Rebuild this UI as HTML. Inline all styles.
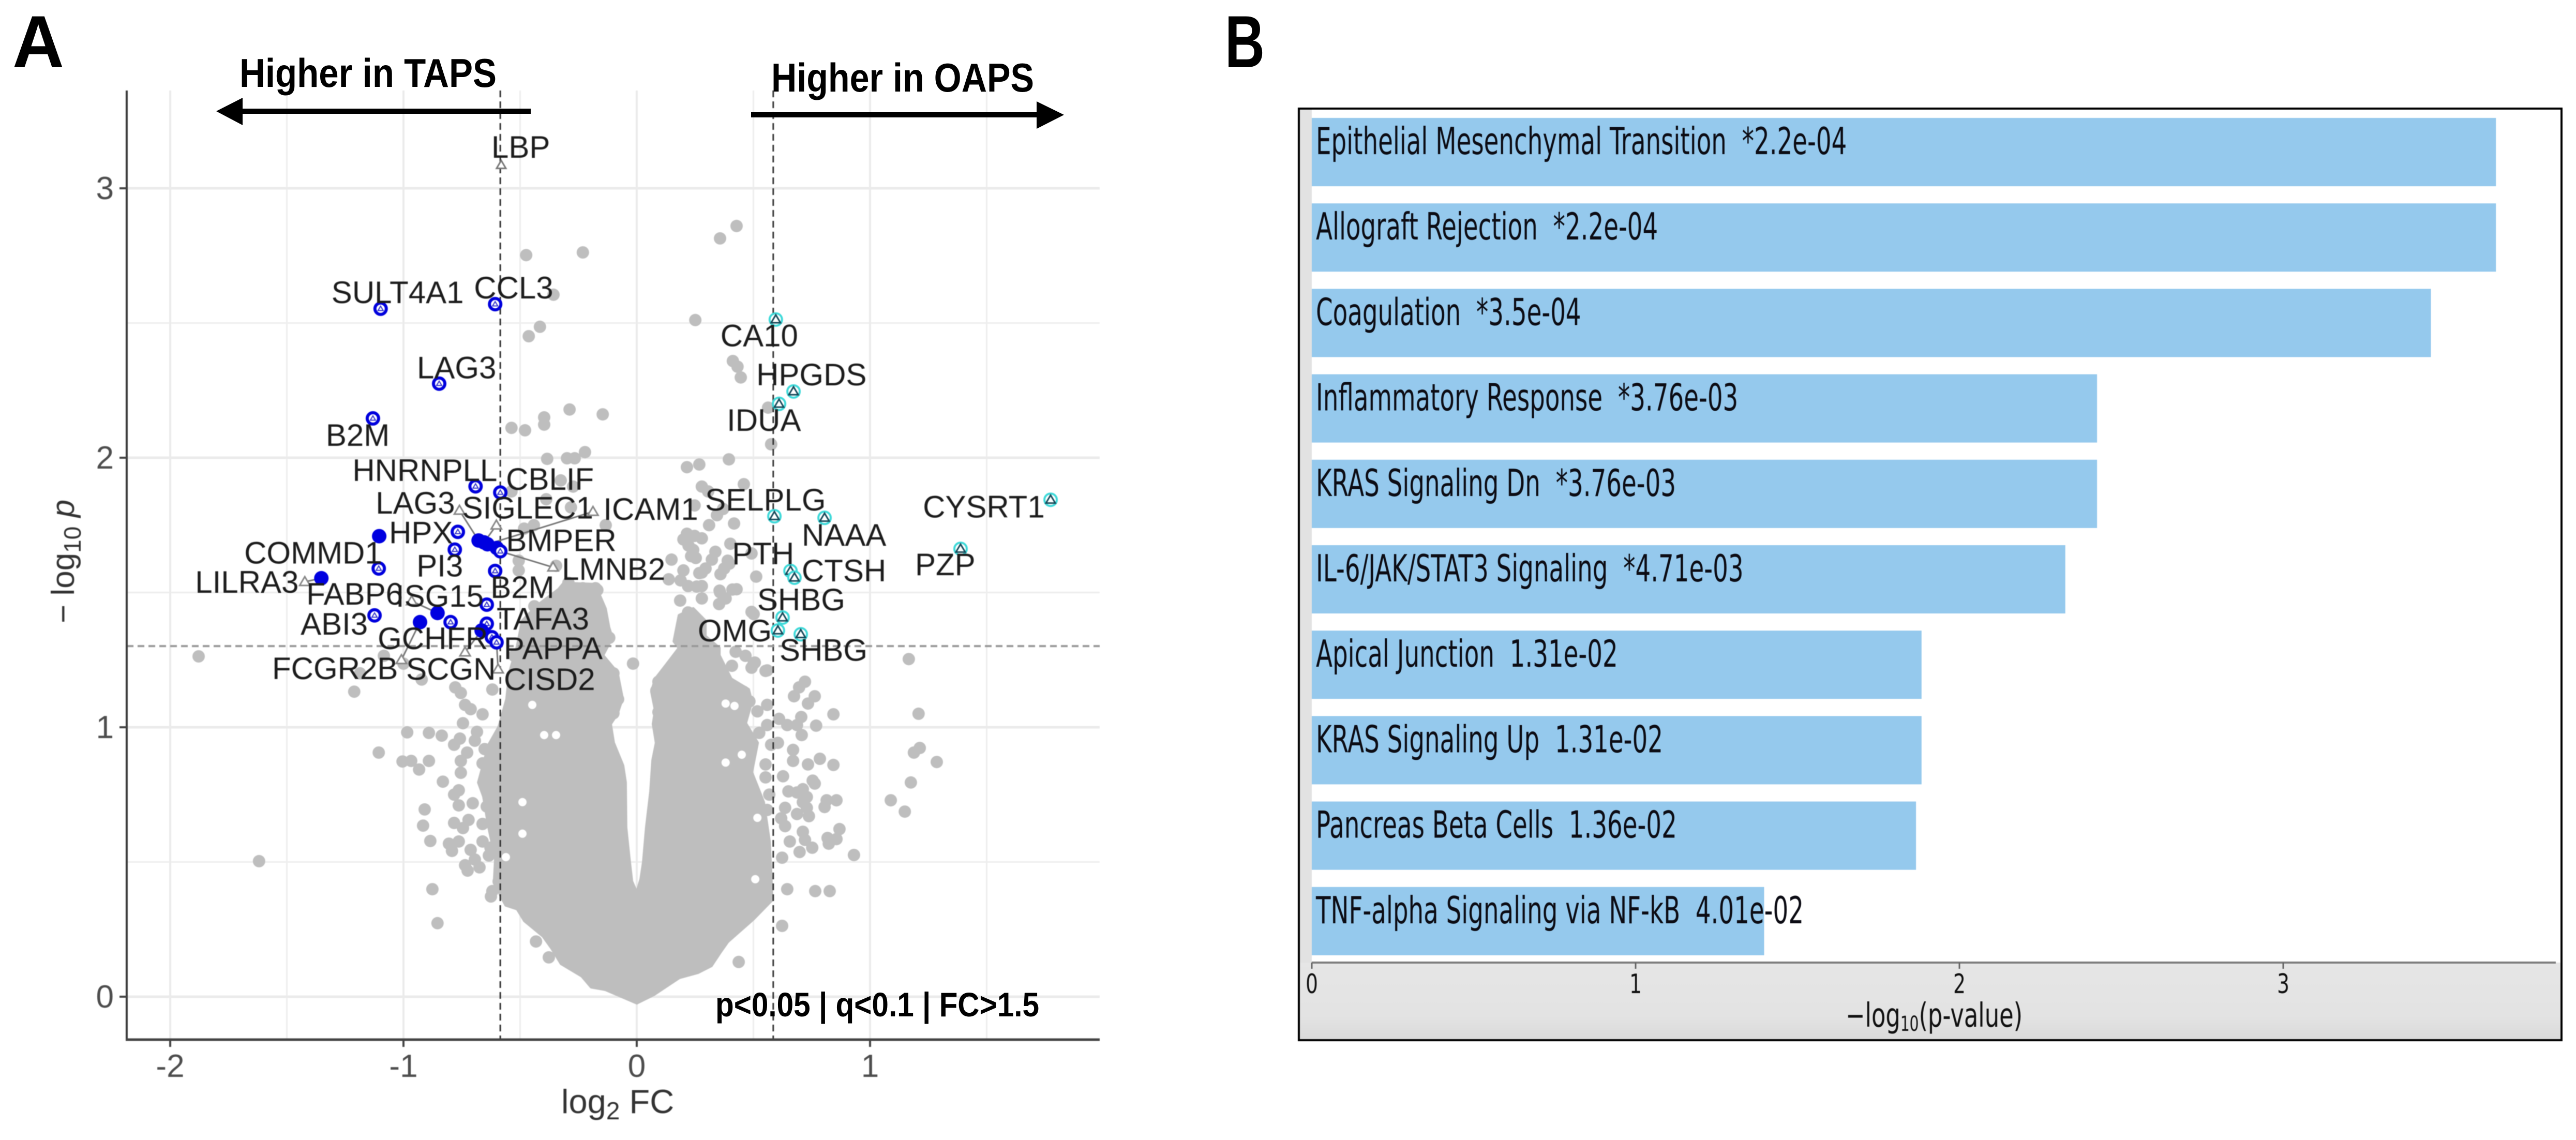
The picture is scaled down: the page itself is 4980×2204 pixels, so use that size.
<!DOCTYPE html>
<html lang="en">
<head>
<meta charset="utf-8">
<title>Volcano plot and pathway enrichment</title>
<style>
html,body{margin:0;padding:0;background:#fff;width:4980px;height:2204px;overflow:hidden}
svg{display:block}
text{white-space:pre}
.sans{font-family:"Liberation Sans",sans-serif}
.dj{font-family:"DejaVu Sans",sans-serif}
</style>
</head>
<body>
<svg id="fig" xmlns="http://www.w3.org/2000/svg" width="4980" height="2204" viewBox="0 0 4980 2204">
  <defs>
    <linearGradient id="axisBand" x1="0" y1="0" x2="0" y2="1">
      <stop offset="0" stop-color="#e6e6e6"/><stop offset="0.7" stop-color="#e3e3e3"/><stop offset="1" stop-color="#dadada"/>
    </linearGradient>
  </defs>
  <rect x="0" y="0" width="4980" height="2204" fill="#fff"/>
  <text class="sans" x="24" y="130" font-size="143" font-weight="700" textLength="100" lengthAdjust="spacingAndGlyphs" fill="#000">A</text>
  <text class="sans" x="2368" y="130" font-size="143" font-weight="700" textLength="77" lengthAdjust="spacingAndGlyphs" fill="#000">B</text>

  <g id="panelA" style="filter:blur(0.8px)">
    <g id="gridA"></g>
    <g id="cloudA"></g>
    <g id="thresholdsA"></g>
    <g id="axesA"></g>
    <g id="genesA"></g>
    <text class="sans" transform="translate(143,1205) rotate(-90)" font-size="62" fill="#333">− log<tspan font-size="46" dy="13">10</tspan><tspan dy="-13" font-style="italic"> p</tspan></text>
    <text class="sans" x="1085" y="2152" font-size="65" fill="#333">log<tspan font-size="48" dy="12">2</tspan><tspan dy="-12"> FC</tspan></text>
  </g>

  <text class="sans" x="463" y="168" font-size="78" font-weight="700" textLength="497" lengthAdjust="spacingAndGlyphs" fill="#000">Higher in TAPS</text>
  <text class="sans" x="1491" y="177" font-size="78" font-weight="700" textLength="508" lengthAdjust="spacingAndGlyphs" fill="#000">Higher in OAPS</text>
  <g>
    <rect x="465" y="210" width="561" height="10" fill="#000"/>
    <polygon points="418,215 469,189 469,242" fill="#000"/>
  </g>
  <g>
    <rect x="1452" y="217" width="555" height="10" fill="#000"/>
    <polygon points="2057,222 2004,196 2004,249" fill="#000"/>
  </g>
  <text class="sans" x="1383" y="1965" font-size="66" font-weight="700" textLength="626" lengthAdjust="spacingAndGlyphs" fill="#000">p&lt;0.05 | q&lt;0.1 | FC&gt;1.5</text>

  <g id="panelB" style="filter:blur(0.6px)">
    <rect x="2510" y="209" width="2443" height="1803" fill="#fff"/>
    <rect x="2512" y="211" width="24" height="1650" fill="#e2e2e2"/>
    <rect x="2512" y="1861" width="2439" height="149" fill="url(#axisBand)"/>
    <g id="barsB"></g>
    <g id="axisB"></g>
    <text class="dj" transform="translate(3568,1985) scale(0.7,1)" font-size="64" fill="#111">−log<tspan font-size="40" dy="8">10</tspan><tspan dy="-8">(p-value)</tspan></text>
    <rect x="2511" y="210" width="2441" height="1801" fill="none" stroke="#000" stroke-width="4"/>
  </g>
</svg>

<script>
/* ---------- Panel A data: volcano plot ---------- */
const xTicks = [-2, -1, 0, 1];
const xMinorTicks = [-1.5, -0.5, 0.5, 1.5];
const yTicks = [0, 1, 2, 3];
const yMinorTicks = [0.5, 1.5, 2.5];
const fcCutoffs = [-0.585, 0.585];
const pCutoff = 1.301;

/* Dense body of the volcano, outline */
const cloudFC = [0,-0.135,-0.195,-0.235,-0.324,-0.364,-0.401,-0.481,-0.512,-0.561,-0.581,-0.61,-0.605,-0.634,-0.656,-0.678,-0.634,-0.59,-0.557,-0.545,-0.512,-0.49,-0.424,-0.335,-0.313,-0.18,-0.151,-0.135,-0.12,-0.106,-0.146,-0.084,-0.062,-0.084,-0.113,-0.1,-0.06,-0.049,-0.047,-0.033,-0.022,0,0.018,0.029,0.042,0.06,0.069,0.084,0.071,0.08,0.064,0.08,0.131,0.182,0.16,0.182,0.242,0.293,0.293,0.353,0.353,0.404,0.479,0.492,0.466,0.517,0.492,0.543,0.568,0.576,0.579,0.499,0.39,0.359,0.319,0.262,0.182,0.073];
const cloudLogP = [-0.023,0.027,0.036,0.077,0.123,0.18,0.225,0.282,0.326,0.34,0.372,0.43,0.512,0.628,0.743,0.795,0.935,1.002,1.104,1.203,1.299,1.395,1.453,1.511,1.534,1.53,1.472,1.44,1.37,1.332,1.267,1.203,1.107,1.05,1.012,0.942,0.858,0.795,0.628,0.512,0.428,0.384,0.436,0.499,0.628,0.762,0.877,0.942,1.012,1.063,1.132,1.179,1.236,1.294,1.319,1.415,1.44,1.395,1.338,1.294,1.267,1.179,1.14,1.094,1.015,0.942,0.833,0.722,0.576,0.428,0.359,0.288,0.205,0.167,0.115,0.09,0.071,0.008];

/* Small white gaps inside the dense body */
const gapFC = [-0.448,-0.397,-0.346,-0.49,-0.49,-0.561,0.381,0.419,0.45,0.381,0.517,0.508];
const gapLogP = [1.083,0.971,0.971,0.722,0.605,0.518,1.088,1.079,0.898,0.869,0.664,0.436];

/* Individually visible non-significant proteins */
const grayFC = [
-0.474,-0.231,-0.357,-0.415,-0.463,0.428,0.357,0.251,0.412,0.432,0.446,0.563,0.576,-0.288,-0.146,-0.397,-0.397,-0.537,-0.479,-0.222,-0.266,-0.299,-0.384,0.395,0.268,0.215,-0.326,-0.273,0.459,0.279,0.306,-0.537,-0.388,-0.282,0.248,-0.133,0.417,0.344,0.31,0.37,-0.441,-0.483,0.215,0.248,0.279,0.2,0.222,0.242,0.233,0.253,0.401,0.337,0.322,0.295,0.268,0.39,0.375,0.359,0.149,0.2,0.137,0.188,0.257,0.512,0.428,0.355,-0.346,-0.506,-0.506,-0.293,-0.231,-0.177,0.492,
-0.286,-0.228,-0.169,-0.286,-0.22,-0.16,-0.373,-0.151,-0.118,-0.228,-0.313,-0.388,-0.439,-0.483,-0.525,-0.355,-0.1,-0.151,-0.016,-0.08,-0.1,-1,-1.084,-1.186,-0.922,-1.211,-0.778,-0.754,-0.736,-0.712,-0.661,-0.745,-0.619,-0.685,-0.758,-0.783,-0.694,-0.652,-0.727,-0.754,-0.661,-0.754,-0.984,-0.891,-0.836,-1.106,-1.004,-0.967,-0.933,-0.891,-0.831,-0.763,-0.783,-0.763,-0.703,-0.909,-0.916,-0.783,-0.885,-0.805,-0.763,-0.792,-0.712,-0.736,-0.725,-0.674,-0.876,-0.592,-0.619,-0.721,-0.745,-0.643,-0.661,-0.634,-0.592,-0.643,-0.694,-0.661,-0.627,-0.854,-0.377,-0.432,-0.625,
0.721,0.696,0.674,0.763,0.734,0.843,0.705,0.61,0.645,0.687,0.769,0.707,0.605,0.67,0.67,0.785,0.734,0.843,0.627,0.754,0.763,0.65,0.712,0.687,0.729,0.814,0.856,0.805,0.712,0.636,0.729,0.738,0.687,0.619,0.636,0.712,0.869,0.721,0.818,0.856,0.823,0.656,0.752,0.698,0.931,0.623,0.645,0.765,0.827,1.166,1.208,1.213,1.188,1.286,1.175,1.089,1.149,0.559,0.492,0.408,0.506,0.466,0.501,0.186,0.279,0.357,0.41,0.353,0.22,0.093,0.084,0.093,0.424,0.457,0.483,0.559,0.517,0.559,0.525,0.576,0.552,0.552,0.568,0.559,0.623,0.437,-1.878,-1.619,
0.279,0.397,0.22,0.279,0.381,0.492,0.501,0.552];
const grayLogP = [
2.752,2.762,2.605,2.486,2.451,2.86,2.814,2.511,2.359,2.338,2.298,2.186,2.05,2.179,2.161,2.15,2.123,2.111,2.102,2.021,1.998,1.998,1.996,1.994,1.975,1.965,1.916,1.893,1.902,1.893,1.875,1.875,1.846,1.816,1.823,1.75,1.756,1.787,1.75,1.81,1.75,1.737,1.718,1.71,1.701,1.697,1.674,1.658,1.635,1.628,1.681,1.651,1.622,1.589,1.572,1.618,1.589,1.568,1.622,1.582,1.549,1.545,1.522,1.559,1.512,1.507,1.599,1.582,1.618,1.536,1.516,1.516,1.645,
1.501,1.501,1.509,1.457,1.464,1.441,1.434,1.382,1.332,1.353,1.369,1.369,1.449,1.324,1.265,1.236,1.2,1.171,1.236,1.104,1.052,1.236,1.265,1.2,1.177,1.132,1.148,1.127,1.083,1.067,1.048,1.015,1.14,0.983,0.958,0.935,0.95,0.919,0.906,0.875,0.866,0.831,0.981,0.979,0.969,0.906,0.873,0.875,0.843,0.875,0.798,0.766,0.75,0.71,0.718,0.695,0.635,0.645,0.578,0.568,0.576,0.541,0.545,0.488,0.468,0.48,0.399,0.428,0.392,0.656,0.626,0.706,0.576,0.524,0.958,0.81,0.509,0.641,0.553,0.273,0.146,0.205,0.372,
1.169,1.148,1.115,1.115,1.088,1.048,1.038,1.031,1.008,1.008,1.006,0.971,0.942,0.916,0.875,0.883,0.862,0.86,0.818,0.802,0.791,0.762,0.77,0.758,0.741,0.729,0.729,0.704,0.722,0.701,0.701,0.67,0.678,0.662,0.633,0.612,0.622,0.582,0.589,0.585,0.568,0.576,0.553,0.537,0.526,0.516,0.399,0.392,0.392,1.253,1.05,0.923,0.906,0.871,0.795,0.729,0.687,1.211,1.221,1.228,1.24,1.265,1.42,1.47,1.478,1.501,1.511,1.457,1.426,1.169,1.136,1.056,1.28,1.132,1.096,1.083,1.059,1.008,0.979,0.935,0.862,0.814,0.75,0.693,0.263,0.129,1.263,0.503,
1.574,1.607,1.524,1.524,1.478,1.428,1.236,1.209];

/* Highlighted proteins: TAPS side (blue) */
const tapsNames = ["LBP","SULT4A1","CCL3","LAG3","B2M","HNRNPLL","CBLIF","HPX","COMMD1","FABP6","LILRA3","PI3","LAG3","SIGLEC1","ICAM1","BMPER","LMNB2","B2M","ISG15","ABI3","","FCGR2B","GCHFR","TAFA3","SCGN","PAPPA","CISD2"];
const tapsFC = [-0.581,-1.098,-0.607,-0.847,-1.131,-0.691,-0.585,-0.767,-1.104,-1.106,-1.352,-0.78,-0.678,-0.655,-0.64,-0.6,-0.585,-0.607,-0.643,-1.124,-0.854,-0.929,-0.798,-0.643,-0.665,-0.621,-0.601];
const tapsLogP = [3.086,2.553,2.57,2.275,2.146,1.894,1.871,1.725,1.709,1.589,1.553,1.659,1.693,1.686,1.679,1.665,1.653,1.58,1.455,1.415,1.424,1.39,1.39,1.384,1.359,1.334,1.315];
const tapsKinds = ["plain","ring","ring","ring","ring","ring","ring","ring","filled","ring","filled","ring","filled","filled","filled","filled","ring","ring","ring","ring","filled","filled","ring","ring","filled","ring","ring"];
/* Highlighted proteins: OAPS side (cyan) */
const oapsNames = ["CA10","HPGDS","IDUA","SELPLG","NAAA","CYSRT1","PZP","PTH","CTSH","SHBG","OMG","SHBG"];
const oapsFC = [0.596,0.672,0.61,0.59,0.805,1.774,1.388,0.659,0.676,0.625,0.605,0.703];
const oapsLogP = [2.513,2.246,2.2,1.783,1.777,1.844,1.662,1.58,1.555,1.407,1.359,1.345];

/* Label layout: offset from each marker, kept apart from the data */
const tapsLabelDx = [-19,-95,-41,-43,-91,-238,11,-133,-261,-140,-244,-74,-199,-42,224,18,119,-9,-176,-143,0,-286,-141,19,-146,23,14];
const tapsLabelDy = [-14,-11,-11,-10,53,-10,-5,22,53,70,28,52,-52,-46,-47,6,55,52,4,37,0,110,52,11,95,42,92];
const tapsArrowDx = [0,0,0,0,0,0,0,0,0,0,-32,0,-37,24,204,0,102,0,0,0,-50,-36,0,0,-32,0,3];
const tapsArrowDy = [0,0,0,0,0,0,0,0,0,0,7,0,-58,-33,-63,0,31,0,0,0,-23,73,0,0,42,0,52];
const oapsLabelDx = [-107,-72,-101,-134,-44,-247,-88,-113,14,-49,-155,-41];
const oapsLabelDy = [52,-12,52,-11,54,34,51,-13,7,-14,21,51];

/* ---------- Panel B data: pathway enrichment ---------- */
const pathwayLabels = ["Epithelial Mesenchymal Transition  *2.2e-04","Allograft Rejection  *2.2e-04","Coagulation  *3.5e-04","Inflammatory Response  *3.76e-03","KRAS Signaling Dn  *3.76e-03","IL-6/JAK/STAT3 Signaling  *4.71e-03","Apical Junction  1.31e-02","KRAS Signaling Up  1.31e-02","Pancreas Beta Cells  1.36e-02","TNF-alpha Signaling via NF-kB  4.01e-02"];
const pathwayValues = [3.657,3.657,3.456,2.425,2.425,2.327,1.883,1.883,1.866,1.397];
const pathwayTicks = [0, 1, 2, 3];

/* ---------- Axis functions ---------- */
const sx = v => 1231 + v * 451;
const sy = v => 1927 - v * 521;
const bx = v => 2536 + v * 626;
const by = i => 228 + i * 165.2;
const BAR_H = 132;
const NS = 'http://www.w3.org/2000/svg';

function make(tag, attrs, parent) {
  const el = document.createElementNS(NS, tag);
  for (const k in attrs) el.setAttribute(k, attrs[k]);
  parent.appendChild(el);
  return el;
}
const gridA = document.getElementById('gridA');
const cloudA = document.getElementById('cloudA');
const thresholdsA = document.getElementById('thresholdsA');
const axesA = document.getElementById('axesA');
const genesA = document.getElementById('genesA');
const barsB = document.getElementById('barsB');
const axisB = document.getElementById('axisB');

/* Grid */
xMinorTicks.forEach(v => {
  const el = make('line', {x1: sx(v), x2: sx(v), y1: 175, y2: 2010, stroke: '#eeeeee', 'stroke-width': 3}, gridA);
  
  
});
yMinorTicks.forEach(v => {
  const el = make('line', {x1: 245, x2: 2126, y1: sy(v), y2: sy(v), stroke: '#eeeeee', 'stroke-width': 3}, gridA);
  
  
});
xTicks.forEach(v => {
  const el = make('line', {x1: sx(v), x2: sx(v), y1: 175, y2: 2010, stroke: '#ebebeb', 'stroke-width': 4}, gridA);
  
  
});
yTicks.forEach(v => {
  const el = make('line', {x1: 245, x2: 2126, y1: sy(v), y2: sy(v), stroke: '#ebebeb', 'stroke-width': 5}, gridA);
  
  
});

/* Volcano body and background points */
const cloudPts = cloudFC.map((v, i) => sx(v).toFixed(1) + ',' + sy(cloudLogP[i]).toFixed(1)).join(' ');
const cloudEl = make('polygon', {points: cloudPts, fill: '#bebebe', stroke: '#bebebe', 'stroke-width': 6, 'stroke-linejoin': 'round'}, cloudA);


gapFC.forEach((v, i) => {
  const el = make('circle', {cx: sx(v).toFixed(1), cy: sy(gapLogP[i]).toFixed(1), r: 8, fill: '#fff'}, cloudA);
  
  
});
grayFC.forEach((v, i) => {
  const el = make('circle', {cx: sx(v).toFixed(1), cy: sy(grayLogP[i]).toFixed(1), r: 12, fill: '#bebebe'}, cloudA);
  
  
});

/* Thresholds */
fcCutoffs.forEach(v => {
  const el = make('line', {x1: sx(v), x2: sx(v), y1: 175, y2: 2010, stroke: '#333', 'stroke-width': 3, 'stroke-dasharray': '13 8'}, thresholdsA);
  
  
});
{
  const el = make('line', {x1: 245, x2: 2126, y1: sy(pCutoff), y2: sy(pCutoff), stroke: '#999', 'stroke-width': 4, 'stroke-dasharray': '13 8'}, thresholdsA);
  
  
}

/* Axes A */
{
  const el = make('line', {x1: 245, x2: 245, y1: 175, y2: 2012, stroke: '#3a3a3a', 'stroke-width': 4}, axesA);
  
  
  const el2 = make('line', {x1: 243, x2: 2126, y1: 2010, y2: 2010, stroke: '#444', 'stroke-width': 5}, axesA);
  
  
}
xTicks.forEach(v => {
  const t = make('line', {x1: sx(v), x2: sx(v), y1: 2010, y2: 2024, stroke: '#444', 'stroke-width': 4}, axesA);
  
  
  const l = make('text', {x: sx(v), y: 2082, 'text-anchor': 'middle', class: 'sans', 'font-size': 62, fill: '#4d4d4d'}, axesA);
  l.textContent = String(v);
  
  
});
yTicks.forEach(v => {
  const t = make('line', {x1: 231, x2: 245, y1: sy(v), y2: sy(v), stroke: '#444', 'stroke-width': 4}, axesA);
  
  
  const l = make('text', {x: 220, y: sy(v) + 21, 'text-anchor': 'end', class: 'sans', 'font-size': 62, fill: '#4d4d4d'}, axesA);
  l.textContent = String(v);
  
  
});

function triPoints(x, y, s) {
  return (x - s) + ',' + (y + s * 0.7) + ' ' + (x + s) + ',' + (y + s * 0.7) + ' ' + x + ',' + (y - s);
}

/* Arrows and markers, blue */
tapsFC.forEach((v, i) => {
  const x = sx(v), y = sy(tapsLogP[i]);
  const ax = tapsArrowDx[i], ay = tapsArrowDy[i];
  if (ax !== 0 || ay !== 0) {
    const seg = make('line', {x1: x, y1: y, x2: x + ax, y2: y + ay, stroke: '#777', 'stroke-width': 3}, genesA);
    
    
    const tip = make('polygon', {points: triPoints(x + ax, y + ay, 10), fill: '#fff', stroke: '#888', 'stroke-width': 3}, genesA);
    
    
  }
});
tapsFC.forEach((v, i) => {
  const x = sx(v), y = sy(tapsLogP[i]);
  const kind = tapsKinds[i];
  if (kind === 'filled') {
    const m = make('circle', {cx: x, cy: y, r: 14, fill: '#0000e0'}, genesA);
    
    
  } else if (kind === 'ring') {
    const m = make('circle', {cx: x, cy: y, r: 11, fill: '#fff', stroke: '#0000dd', 'stroke-width': 6}, genesA);
    
    
    const t = make('polygon', {points: triPoints(x, y, 5), fill: 'none', stroke: '#3333cc', 'stroke-width': 2}, genesA);
    
    
  } else {
    const t = make('polygon', {points: triPoints(x, y, 9), fill: '#fff', stroke: '#777', 'stroke-width': 3}, genesA);
    
    
  }
});
/* Markers, cyan */
oapsFC.forEach((v, i) => {
  const x = sx(v), y = sy(oapsLogP[i]);
  const m = make('circle', {cx: x, cy: y, r: 12, fill: '#fff', stroke: '#3fd9d9', 'stroke-width': 4}, genesA);
  
  
  const t = make('polygon', {points: triPoints(x, y, 9), fill: 'none', stroke: '#164a5a', 'stroke-width': 3}, genesA);
  
  
});
/* Labels */
tapsNames.forEach((name, i) => {
  if (!name) return;
  const l = make('text', {x: sx(tapsFC[i]) + tapsLabelDx[i], y: sy(tapsLogP[i]) + tapsLabelDy[i], class: 'sans', 'font-size': 60, fill: '#1c1c1c'}, genesA);
  l.textContent = name;
  
  
});
oapsNames.forEach((name, i) => {
  const l = make('text', {x: sx(oapsFC[i]) + oapsLabelDx[i], y: sy(oapsLogP[i]) + oapsLabelDy[i], class: 'sans', 'font-size': 60, fill: '#1c1c1c'}, genesA);
  l.textContent = name;
  
  
});

/* Panel B bars */
pathwayValues.forEach((v, i) => {
  const r = make('rect', {x: bx(0), y: by(i).toFixed(1), width: (bx(v) - bx(0)).toFixed(1), height: BAR_H, fill: '#95c9ed'}, barsB);
  
  
});
pathwayLabels.forEach((label, i) => {
  const t = make('text', {transform: 'translate(2544,' + (by(i) + 70).toFixed(1) + ') scale(0.649,1)', class: 'dj', 'font-size': 72, fill: '#0c0c14'}, barsB);
  t.textContent = label;
  
  
});
/* Panel B axis */
{
  const el = make('line', {x1: 2536, x2: 4941, y1: 1861, y2: 1861, stroke: '#7f7f7f', 'stroke-width': 4}, axisB);
  
  
}
pathwayTicks.forEach(v => {
  const t = make('line', {x1: bx(v), x2: bx(v), y1: 1861, y2: 1873, stroke: '#666', 'stroke-width': 3}, axisB);
  
  
  const l = make('text', {transform: 'translate(' + bx(v) + ',1920) scale(0.72,1)', 'text-anchor': 'middle', class: 'dj', 'font-size': 52, fill: '#111'}, axisB);
  l.textContent = String(v);
  
  
});
</script>
</body>
</html>
